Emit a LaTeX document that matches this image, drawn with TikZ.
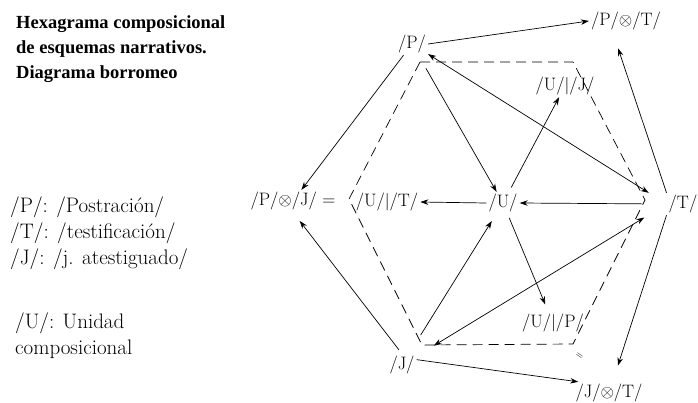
\documentclass[tikz,border=0pt]{standalone}
\usepackage{amsmath,amssymb}
\usepackage{fontspec}
\newfontfamily\titfont{Liberation Serif}
\usetikzlibrary{positioning,arrows.meta}

\begin{document}
\begin{tikzpicture}[
		x=1pt,y=-1pt,
		lbl/.style={inner sep=2pt,font=\fontsize{18}{22}\selectfont},
		leyenda/.style={inner sep=0pt,anchor=north west,align=left,font=\fontsize{21}{26}\selectfont},
		titulo/.style={inner sep=0pt,anchor=north west,align=left,font=\titfont\fontsize{18.5}{25}\selectfont\bfseries},
		hexa/.style={dash pattern=on 10pt off 6pt,line width=0.7pt},
		flecha/.style={->,line width=0.7pt},
		>={Stealth[length=8pt,width=5.5pt]}
		]
		
		\useasboundingbox (0,0) rectangle (698,402);
		
		\node[titulo] (tit) at (16,15) {Hexagrama composicional\\de esquemas narrativos.\\Diagrama borromeo};
		\node[leyenda] (ley) at (10,197) {/P/: /Postración/\\/T/: /testificación/\\/J/: /j. atestiguado/};
		\node[leyenda] (uni) at (15,313) {/U/: Unidad\\composicional};
		
		\draw[hexa] (420,62) -- (573,62) -- (645,200) -- (573,344) -- (422,345) -- (349,199) -- cycle;
		
		\node[lbl] (p) at (412,44) {/P/};
		\node[lbl] (pt) at (626,21) {/P/$\otimes$/T/};
		\node[lbl] (uj) at (565,86) {/U/$|$/J/};
		\node[lbl] (pj) at (293,201) {/P/$\otimes$/J/ =};
		\node[lbl] (ut) at (387,202) {/U/$|$/T/};
		\node[lbl] (u) at (503,203) {/U/};
		\node[lbl] (t) at (683,204) {/T/};
		\node[lbl] (up) at (553,323) {/U/$|$/P/};
		\node[lbl] (j) at (402,365) {/J/};
		\node[lbl] (jt) at (609,393) {/J/$\otimes$/T/};
		\node[font=\fontsize{10}{12}\selectfont,rotate=-35,inner sep=0pt] (igual) at (579,356) {=};
		
		\draw[flecha] (p.east) -- (pt.west);
		\draw[flecha] (p) -- (pj);
		\draw[flecha,shorten <=15pt] (p) -- (u);
		\draw[flecha,shorten <=5pt] (u) -- (uj);
		\draw[flecha,<->,shorten >=21pt] (p) -- (t.west);
		\draw[flecha,shorten <=25pt] (t.west) -- (u.east);
		\draw[flecha] (u.west) -- (ut.east);
		\draw[flecha,shorten <=4pt,shorten >=8pt] (u) -- (up);
		\draw[flecha,shorten <=22pt,shorten >=8pt] (j) -- (u);
		\draw[flecha,<->,shorten <=20pt,shorten >=26pt] (j) -- (t.west);
		\draw[flecha,shorten <=5pt,shorten >=11pt] (j.north) -- (pj.south);
		\draw[flecha] (j.20) -- (jt.160);
		\draw[flecha,shorten >=17pt] (t.north west) -- (pt.220);
		\draw[flecha,shorten >=17pt] (t.south west) -- (jt);
		
	\end{tikzpicture}
\end{document}
